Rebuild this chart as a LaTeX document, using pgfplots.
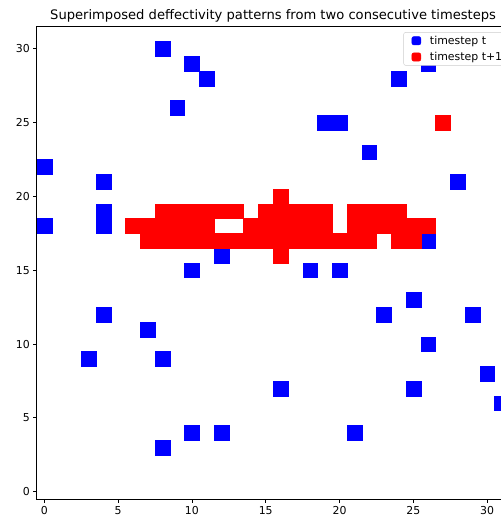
\documentclass[border=0pt]{standalone}
\usepackage{fontspec}
\setmainfont{DejaVu Sans}
\usepackage{pgfplots}
\pgfplotsset{compat=1.18}

\begin{document}
\begin{tikzpicture}
\begin{axis}[
  name=ax,
  scale only axis,
  width=474bp, height=474bp,
  xmin=-0.5, xmax=31.5, ymin=-0.5, ymax=31.5,
  xtick={0,5,...,30}, ytick={0,5,...,30},
  tick align=outside, major tick length=3.5bp,
  xtick pos=bottom, ytick pos=left,
  tick style={black, line width=0.8bp},
  axis line style={black, line width=0.8bp},
  tick label style={font=\fontsize{11}{13}\selectfont},
  /pgf/number format/assume math mode=true,
  title={Superimposed deffectivity patterns from two consecutive timesteps},
  title style={font=\fontsize{13.2}{16}\selectfont, at={(0.5,1)}, anchor=base, yshift=1.4bp},
  legend style={at={(1,1)}, anchor=north east, xshift=-5bp, yshift=-5.6bp,
    draw=black!20, rounded corners=2bp, font=\fontsize{11}{13}\selectfont,
    row sep=2.5bp, column sep=0bp, inner xsep=0bp, inner ysep=1.5bp},
  legend cell align=left,
  legend image code/.code={
    \fill[opacity=0] (0bp,-4bp) rectangle (24bp,4bp);
    \fill[#1] (8bp,-4.2bp) rectangle (17bp,4.2bp);
  },
]
\addplot[only marks, mark=square*, mark size=7.4bp, color=blue,
  mark options={fill=blue, draw=blue, line width=0.2bp}, forget plot] coordinates {
(8,30) (10,29) (11,28) (9,26) (0,22) (4,21) (0,18) (4,19) (4,18) (12,16)
(10,15) (18,15) (20,15) (19,25) (20,25) (22,23) (24,28) (26,29) (28,21) (26,17)
(4,12) (7,11) (3,9) (8,9) (16,7) (10,4) (12,4) (8,3) (21,4) (23,12)
(25,13) (26,10) (25,7) (29,12) (30,8) (31,6)
};
\addplot[only marks, mark=square*, mark size=7.4bp, color=red,
  mark options={fill=red, draw=red, line width=0.2bp}, forget plot] coordinates {
(16,20)
(8,19) (9,19) (10,19) (11,19) (12,19) (13,19) (15,19) (16,19) (17,19) (18,19) (19,19)
(21,19) (22,19) (23,19) (24,19)
(6,18) (7,18) (8,18) (9,18) (10,18) (11,18) (14,18) (15,18) (16,18) (17,18) (18,18) (19,18)
(21,18) (22,18) (23,18) (24,18) (25,18) (26,18)
(7,17) (8,17) (9,17) (10,17) (11,17) (12,17) (13,17) (14,17) (15,17) (16,17) (17,17) (18,17)
(19,17) (20,17) (21,17) (22,17) (24,17) (25,17)
(16,16)
(27,25)
};
\addlegendimage{blue}
\addlegendentry{timestep t}
\addlegendimage{red}
\addlegendentry{timestep t+1}
\end{axis}
\pgfresetboundingbox
\path (ax.south west) ++(-37bp,-17bp) rectangle ++(502bp,517.7bp);
\end{tikzpicture}
\end{document}
